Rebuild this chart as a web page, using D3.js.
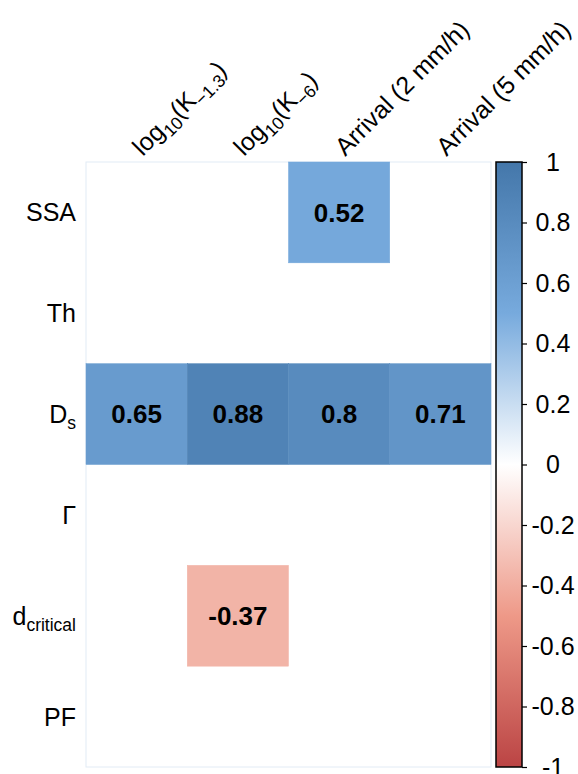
<!DOCTYPE html>
<html>
<head>
<meta charset="utf-8">
<script src="https://cdn.jsdelivr.net/npm/d3@7"></script>
<style>
  body { margin: 0; background: #fff; }
  svg text { font-family: "Liberation Sans", Arial, sans-serif; }
</style>
</head>
<body>
<div id="chart"></div>
<script>
// rows (y) and columns (x) of the correlation grid
var rowKeys = ["SSA", "Th", "Ds", "Gamma", "dcritical", "PF"];
var colKeys = ["logK13", "logK6", "arr2", "arr5"];

// label pieces: [text, isSubscript]
var rowLabels = [
  [["SSA", 0]],
  [["Th", 0]],
  [["D", 0], ["s", 1]],
  [["Γ", 0]],
  [["d", 0], ["critical", 1]],
  [["PF", 0]]
];
var colLabels = [
  [["log", 0], ["10", 1], ["(K", 0], ["−1.3", 1], [")", 0]],
  [["log", 0], ["10", 1], ["(K", 0], ["−6", 1], [")", 0]],
  [["Arrival (2 mm/h)", 0]],
  [["Arrival (5 mm/h)", 0]]
];

// significant correlations only, null = blank cell
var corrSSA       = [null, null, 0.52, null];
var corrTh        = [null, null, null, null];
var corrDs        = [0.65, 0.88, 0.8, 0.71];
var corrGamma     = [null, null, null, null];
var corrDcritical = [null, -0.37, null, null];
var corrPF        = [null, null, null, null];
var corrRows = [corrSSA, corrTh, corrDs, corrGamma, corrDcritical, corrPF];

var legendTicks = [-1, -0.8, -0.6, -0.4, -0.2, 0, 0.2, 0.4, 0.6, 0.8, 1];
var palette = ["#BB4444", "#EE9988", "#FFFFFF", "#77AADD", "#4477AA"];
var paletteStops = [-1, -0.5, 0, 0.5, 1];

var width = 578;
var height = 774;
var grid = {left: 86, top: 162, right: 491, bottom: 767};

var svg = d3.select("#chart")
  .append("svg")
  .attr("width", width)
  .attr("height", height);

var x = d3.scaleBand().domain(colKeys).range([grid.left, grid.right]);
var y = d3.scaleBand().domain(rowKeys).range([grid.top, grid.bottom]);
var color = d3.scaleLinear().domain(paletteStops).range(palette);

// flatten to cells
var cells = [];
corrRows.forEach(function(r, i) {
  r.forEach(function(v, j) {
    cells.push({row: rowKeys[i], col: colKeys[j], value: v});
  });
});

// faint outline of the grid
svg.append("rect")
  .attr("x", grid.left)
  .attr("y", grid.top)
  .attr("width", grid.right - grid.left)
  .attr("height", grid.bottom - grid.top)
  .attr("fill", "#fff")
  .attr("stroke", "#e2ebf5")
  .attr("stroke-width", 1);

var filled = cells.filter(function(d) { return d.value !== null; });

svg.selectAll("rect.cell")
  .data(filled)
  .enter().append("rect")
  .attr("class", "cell")
  .attr("x", function(d) { return x(d.col); })
  .attr("y", function(d) { return y(d.row); })
  .attr("width", x.bandwidth())
  .attr("height", y.bandwidth())
  .attr("fill", function(d) { return color(d.value); })
  .attr("stroke", function(d) { return color(d.value); })
  .attr("stroke-width", 0.5);

svg.selectAll("text.val")
  .data(filled)
  .enter().append("text")
  .attr("class", "val")
  .attr("x", function(d) { return x(d.col) + x.bandwidth() / 2; })
  .attr("y", function(d) { return y(d.row) + y.bandwidth() / 2; })
  .attr("dy", "0.36em")
  .attr("text-anchor", "middle")
  .attr("font-size", "26px")
  .attr("font-weight", "bold")
  .attr("fill", "#000")
  .text(function(d) { return String(d.value); });

// writes pieces into a text element, subscripts smaller and lowered
function writeLabel(sel, pieces, size) {
  var shifted = false;
  pieces.forEach(function(p) {
    var t = sel.append("tspan").text(p[0]);
    if (p[1]) {
      t.attr("font-size", (size * 0.7) + "px").attr("dy", shifted ? 0 : size * 0.25);
      shifted = true;
    } else {
      t.attr("font-size", size + "px");
      if (shifted) { t.attr("dy", -size * 0.25); shifted = false; }
    }
  });
}

// row labels
rowKeys.forEach(function(k, i) {
  var t = svg.append("text")
    .attr("x", 76)
    .attr("y", y(k) + y.bandwidth() / 2 + 9)
    .attr("text-anchor", "end")
    .attr("fill", "#000");
  writeLabel(t, rowLabels[i], 25);
});

// column labels, rotated
colKeys.forEach(function(k, j) {
  var t = svg.append("text")
    .attr("transform", "translate(" + (x(k) + x.bandwidth() / 2 + 6) + "," + (grid.top - 5) + ") rotate(-45)")
    .attr("text-anchor", "start")
    .attr("fill", "#000");
  writeLabel(t, colLabels[j], 25);
});

// colour legend
var bar = {left: 496, right: 522};
var legendY = d3.scaleLinear().domain([-1, 1]).range([grid.bottom, grid.top]);

var grad = svg.append("defs").append("linearGradient")
  .attr("id", "corrGrad")
  .attr("x1", 0).attr("y1", 1).attr("x2", 0).attr("y2", 0);
grad.selectAll("stop")
  .data(paletteStops)
  .enter().append("stop")
  .attr("offset", function(d) { return (d + 1) / 2; })
  .attr("stop-color", function(d) { return color(d); });

svg.append("rect")
  .attr("x", bar.left)
  .attr("y", grid.top)
  .attr("width", bar.right - bar.left)
  .attr("height", grid.bottom - grid.top)
  .attr("fill", "url(#corrGrad)")
  .attr("stroke", "#000")
  .attr("stroke-width", 1.5);

var legendAxis = svg.append("g")
  .attr("transform", "translate(" + bar.right + ",0)")
  .call(d3.axisRight(legendY)
    .tickValues(legendTicks)
    .tickSize(5)
    .tickFormat(function(d) { return String(d); }));

legendAxis.select(".domain").remove();
legendAxis.selectAll(".tick line").attr("stroke", "#000").attr("stroke-width", 1.2);
legendAxis.selectAll(".tick text")
  .attr("x", 31)
  .attr("text-anchor", "middle")
  .attr("font-size", "25px")
  .attr("font-family", "Liberation Sans, Arial, sans-serif")
  .attr("fill", "#000");
</script>
</body>
</html>
